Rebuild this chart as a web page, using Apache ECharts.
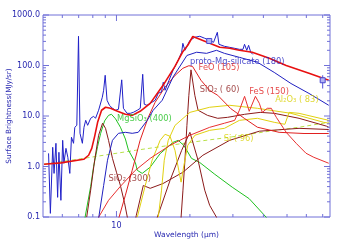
<!DOCTYPE html>
<html><head><meta charset="utf-8">
<script src="https://cdn.jsdelivr.net/npm/echarts@6/dist/echarts.min.js"></script>
<style>html,body{margin:0;padding:0;background:#fff}#c{width:343px;height:245px}</style>
</head><body><div id="c"></div>
<script>
// ---- data (wavelength in micron, surface brightness in MJy/sr) ----
const observed = [[5.27,1.82],[5.36,0.118],[5.48,2.4],[5.55,0.73],[5.65,2.88],[5.74,0.245],[5.81,1.91],[5.92,0.214],[6.02,3.3],[6.09,1.16],[6.21,2.29],[6.32,1.52],[6.44,0.73],[6.54,3.79],[6.67,2.88],[6.75,5.97],[6.88,6.54],[6.99,379],[7.09,4.54],[7.25,2.88],[7.36,5.97],[7.48,8.22],[7.62,6.54],[7.84,9.0],[8.06,9.86],[8.21,9.0],[8.45,13.0],[8.75,23.5],[8.86,32.3],[8.99,64],[9.15,20.5],[9.36,16.3],[9.63,14.2],[9.91,13.0],[10.19,13.6],[10.51,52],[10.68,14.2],[11.05,11.3],[11.4,11.3],[11.72,11.8],[12.17,13.0],[12.52,14.2],[12.81,67],[13.0,17.1],[13.33,16.3],[13.75,17.8],[14.41,20.5],[14.84,28.2],[15.3,30],[15.55,46.5],[15.82,32.3],[16.42,51],[17.05,80],[17.9,127],[18.5,183],[18.71,275],[19.08,200],[20.0,315],[20.95,362],[21.95,379],[23.0,346],[24.1,315],[25.0,288],[25.9,454],[26.3,263],[27.7,240],[29.1,229],[30.5,219],[31.9,209],[33.0,209],[33.48,263],[34.2,200],[34.8,251],[35.5,183],[36.2,166]];
const totalModel = [[5.05,1.11],[5.92,1.18],[7.34,1.39],[7.69,1.67],[7.92,2.29],[8.14,3.96],[8.37,7.5],[8.69,13.0],[9.02,14.9],[9.45,14.2],[10.1,12.4],[10.88,10.8],[11.6,10.3],[12.5,12.4],[13.75,17.8],[15.52,40.5],[17.37,96],[18.73,190],[19.6,251],[20.55,375],[21.95,330],[24.1,275],[26.5,229],[29.1,219],[31.9,200],[36.0,183],[42.3,139],[49.6,100],[61.5,70],[74.1,51]];
const protoMgSil = [[8.29,0.043],[8.45,0.094],[8.86,0.42],[9.19,1.33],[9.63,3.3],[10.19,4.54],[10.88,4.75],[11.6,4.54],[12.28,4.75],[13.37,8.2],[14.14,13],[15.4,20.5],[17.05,58.9],[19.44,158],[21.3,183],[23.4,174],[25.7,200],[27.7,174],[31.9,145],[37.8,116],[44.3,73],[51.9,44],[61.5,28],[74.1,16.3]];
const feo = [[9.9,0.04],[10.19,0.09],[10.88,0.27],[11.6,0.84],[12.5,3.3],[13.5,9.4],[14.4,18.6],[15.8,37],[17.4,64],[18.7,88],[19.8,99],[20.5,96],[22.2,51],[24.1,32],[26.0,25.7],[29.4,14],[33.4,9],[37.8,6],[46.4,4.75],[58.7,4.5],[74.1,4.5]];
const sio2_60 = [[18.0,0.035],[18.4,0.099],[18.73,0.34],[19.08,1.33],[19.44,6.5],[19.8,25.7],[20.2,82],[20.4,88],[20.55,82],[20.95,25.7],[21.6,13],[23.6,10.3],[26.0,9.0],[28.5,9.4],[33.5,10.8],[38.8,11.8],[44.3,11.3],[56,9.0],[72.5,6.3],[74.1,6.0]];
const sio2_300 = [[7.55,0.099],[7.84,0.34],[8.14,1.33],[8.45,4.15],[8.77,7.2],[9.02,5.7],[9.28,3.3],[9.63,1.45],[10.0,0.77],[10.38,0.42],[10.78,0.195],[11.08,0.099],[11.5,0.034],[12.06,0.108],[12.88,0.42],[13.75,0.37],[15.52,0.46],[18.73,0.77],[22.6,1.67],[29.1,3.3],[38.5,5.0],[56,5.7],[74.1,5.4]];
const brownTent = [[14.41,0.035],[14.7,0.099],[16.58,0.53],[18.5,2.09],[20.0,4.75],[21.6,1.33],[23.0,0.34],[24.1,0.17],[25.7,0.099],[26.9,0.035]];
const fes = [[8.21,0.035],[8.45,0.099],[9.28,0.214],[10.38,0.405],[11.95,0.84],[13.75,1.45],[16.58,2.63],[20.0,4.15],[24.1,5.97],[27.7,7.2],[30.5,8.2],[31.9,13],[33.5,24.5],[35.0,12.4],[37.1,24.5],[38.5,17.8],[39.6,11.8],[41.5,14.2],[43.1,14.2],[45.2,9.4],[49.6,4.75],[54.5,2.88],[59.8,1.83],[64.4,1.52],[74.1,1.16]];
const al2o3 = [[14.84,0.099],[15.3,0.34],[15.7,1.33],[16.3,3.3],[17.37,6.5],[20.0,11.8],[24.1,14.9],[29.1,16.3],[37.8,14.2],[51.9,11.3],[70.7,7.5],[74.1,7.2]];
const yellow2 = [[12.17,0.099],[13.12,0.42],[14.0,1.33],[15.1,3.3],[15.82,4.35],[16.58,3.96],[17.37,2.09],[18.0,0.84],[18.4,0.49],[18.9,1.06],[19.6,2.63],[20.95,4.15],[24.1,5.2],[27.7,5.7],[31.9,8.2],[37.8,9.0],[44.3,7.5],[49.0,6.85],[51.0,11.8],[56.0,11.3],[74.1,8.2]];
const mgsio3 = [[7.3,0.05],[7.44,0.1],[7.84,0.4],[8.06,1.0],[8.37,2.5],[8.61,4.5],[8.94,8],[9.28,10.3],[9.54,10.8],[9.91,8.8],[10.38,6],[10.88,3.5],[11.2,2.1],[11.95,1.2],[12.17,0.84],[12.75,0.73],[13.75,0.97],[15.1,1.8],[17.05,3.0],[17.9,3.3],[18.9,2.6],[20.3,1.45],[21.95,1.2],[25.3,0.7],[29.8,0.39],[35,0.23],[41,0.1],[46,0.05]];
const siModel = [[5.05,1.11],[7.34,1.45],[11.95,2.09],[20,3.0],[29.1,3.8],[42.3,5.0],[56,6.0],[74.1,7.5]];
const photometry = [[24,306,306,306],[70,51,35,64]]; // [lambda, value, low, high]
const labels = [
  {text:'proto-Mg-silicate (180)', at:[20.0,116], color:'#2020c0'},
  {text:'FeO (105)', at:[21.7,88], color:'#e02020'},
  {text:'SiO\u2082 ( 60)', at:[21.95,32.3], color:'#8b1a1a'},
  {text:'FeS (150)', at:[35.0,29.5], color:'#e02020'},
  {text:'Al\u2082O\u2083 ( 83)', at:[44.7,20.9], color:'#d8d000'},
  {text:'Si ( 96)', at:[27.5,3.54], color:'#d8d000'},
  {text:'MgSiO\u2083 (400)', at:[10.05,8.8], color:'#20c020'},
  {text:'SiO\u2082 (300)', at:[9.28,0.558], color:'#8b1a1a'}
];
const xTickMajor = [10];
const xTickMinor = [6,7,8,9,20,30,40,50,60,70];
const yTickMajor = [0.1,1,10,100,1000];
const yTickMinor = [0.2,0.3,0.4,0.5,0.6,0.7,0.8,0.9,2,3,4,5,6,7,8,9,20,30,40,50,60,70,80,90,200,300,400,500,600,700,800,900];
const X_MIN=5, X_MAX=75, Y_MIN=0.1, Y_MAX=1000;

const AXIS='#7070d8', TXT='#2828b0', FONT='DejaVu Sans';
const chart = echarts.init(document.getElementById('c'), null, {renderer:'canvas'});
function ln(name,data,color,w,extra){return Object.assign({type:'line',name,data,showSymbol:false,symbol:'none',clip:true,lineStyle:{color,width:w||1},silent:true,z:2},extra||{});}
const tickItems = [];
xTickMajor.forEach(v=>tickItems.push(['x',v,6]));
xTickMinor.forEach(v=>tickItems.push(['x',v,3]));
yTickMajor.forEach(v=>tickItems.push(['y',v,6]));
yTickMinor.forEach(v=>tickItems.push(['y',v,3]));
chart.setOption({
  animation:false,
  grid:{left:43,top:15,width:287,height:202,show:true,borderColor:AXIS,borderWidth:1,backgroundColor:'transparent',containLabel:false,outerBoundsMode:'none'},
  xAxis:{type:'log',logBase:10,min:X_MIN,max:X_MAX,axisLine:{show:false},axisTick:{show:false},splitLine:{show:false},
    axisLabel:{color:TXT,fontSize:8,fontFamily:FONT,margin:5,formatter:v=>Math.abs(v-10)<1e-6?'10':''},
    name:'Wavelength (\u03bcm)',nameLocation:'middle',nameGap:14,nameMoveOverlap:false,nameTextStyle:{color:TXT,fontSize:7.5,fontFamily:FONT,verticalAlign:'top'}},
  yAxis:{type:'log',logBase:10,min:Y_MIN,max:Y_MAX,axisLine:{show:false},axisTick:{show:false},splitLine:{show:false},
    axisLabel:{color:TXT,fontSize:8,fontFamily:FONT,margin:3,formatter:v=>Number(v).toFixed(1)},
    name:'Surface Brightness(MJy/sr)',nameLocation:'middle',nameGap:30,nameRotate:90,nameMoveOverlap:false,nameTextStyle:{color:TXT,fontSize:7.2,fontFamily:FONT}},
  series:[
    ln('Si',siModel,'#b8e048',1,{lineStyle:{color:'#b8e048',width:1,type:[4,3]}}),
    ln('MgSiO3',mgsio3,'#20c020'),
    ln('SiO2_300',sio2_300,'#8b1a1a'),
    ln('tent',brownTent,'#8b1a1a'),
    ln('SiO2_60',sio2_60,'#8b1a1a'),
    ln('Al2O3',al2o3,'#e0d010'),
    ln('yellow2',yellow2,'#e0d010'),
    ln('FeS',fes,'#e83030'),
    ln('FeO',feo,'#e02020'),
    ln('proto',protoMgSil,'#2020c0'),
    ln('observed',observed,'#2020c8',1,{z:3}),
    ln('total',totalModel,'#e81010',1.6,{z:4}),
    {type:'custom',name:'phot',coordinateSystem:'cartesian2d',data:photometry,z:5,clip:false,silent:true,
      renderItem:(p,api)=>{const c=api.coord([api.value(0),api.value(1)]);const lo=api.coord([api.value(0),api.value(2)]);const hi=api.coord([api.value(0),api.value(3)]);
        return {type:'group',children:[
          {type:'line',shape:{x1:c[0],y1:lo[1],x2:c[0],y2:hi[1]},style:{stroke:'#5050d8',lineWidth:1}},
          {type:'rect',shape:{x:c[0]-2.5,y:c[1]-2.5,width:5,height:5},style:{fill:'#b4b4f4',stroke:'#4848d0',lineWidth:1}}]};}},
    {type:'custom',name:'ticks',coordinateSystem:'cartesian2d',data:tickItems.map((t,i)=>[t[0]==='x'?t[1]:X_MIN*1.5,t[0]==='y'?t[1]:1,i]),z:6,clip:false,silent:true,
      renderItem:(p,api)=>{const t=tickItems[p.dataIndex];const L=t[2];
        if(t[0]==='x'){const b=api.coord([t[1],Y_MIN]);const tp=api.coord([t[1],Y_MAX]);
          return {type:'group',children:[{type:'line',shape:{x1:b[0],y1:b[1],x2:b[0],y2:b[1]-L},style:{stroke:AXIS,lineWidth:1}},{type:'line',shape:{x1:tp[0],y1:tp[1],x2:tp[0],y2:tp[1]+L},style:{stroke:AXIS,lineWidth:1}}]};}
        const l=api.coord([X_MIN,t[1]]);const r=api.coord([X_MAX,t[1]]);
        return {type:'group',children:[{type:'line',shape:{x1:l[0],y1:l[1],x2:l[0]+L,y2:l[1]},style:{stroke:AXIS,lineWidth:1}},{type:'line',shape:{x1:r[0],y1:r[1],x2:r[0]-L,y2:r[1]},style:{stroke:AXIS,lineWidth:1}}]};}},
    {type:'scatter',name:'labels',symbolSize:0,z:7,silent:true,
      data:labels.map(l=>({value:l.at,label:{formatter:l.text,color:l.color}})),
      label:{show:true,position:'right',distance:0,fontSize:8.3,fontFamily:FONT}}
  ]
});
</script></body></html>
